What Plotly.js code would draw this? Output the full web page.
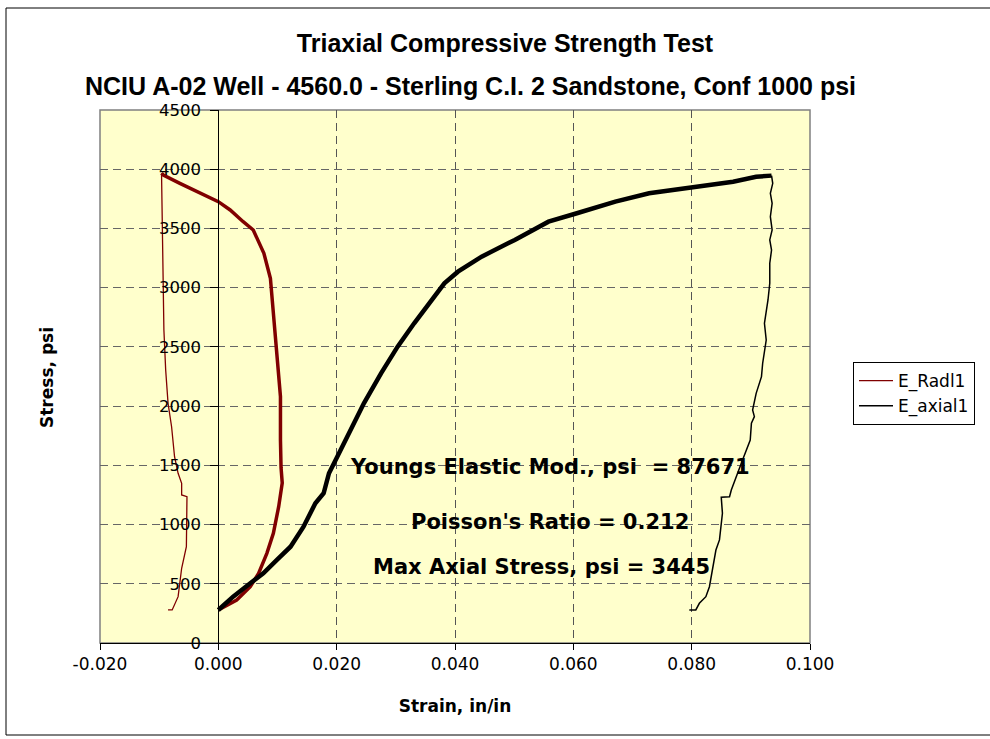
<!DOCTYPE html>
<html>
<head>
<meta charset="utf-8">
<script src="https://cdn.plot.ly/plotly-3.0.1.min.js"></script>
<style>html,body{margin:0;padding:0;background:#fff;}#chart{width:990px;height:739px;}</style>
</head>
<body>
<div id="chart"></div>
<script>
// E_Radl1 loading branch
const radlLoadX = [0, 0.0031, 0.0054, 0.0068, 0.0082, 0.0093, 0.0102, 0.0108, 0.0106, 0.0105, 0.0105, 0.0099, 0.0096, 0.0091, 0.0088, 0.0077, 0.0059, 0.0042, 0.0020, 0, -0.0031, -0.0065, -0.0093, -0.0096];
const radlLoadY = [280, 363, 475, 588, 757, 926, 1151, 1351, 1480, 1714, 2080, 2446, 2671, 2896, 3080, 3290, 3487, 3557, 3656, 3726, 3797, 3881, 3951, 3966];
// E_Radl1 unloading branch
const radlUnloadX = [-0.0096, -0.0094, -0.0092, -0.0089, -0.0085, -0.0079, -0.0074, -0.0068, -0.0062, -0.0062, -0.0053, -0.0054, -0.0062, -0.0068, -0.0076, -0.0078, -0.0085];
const radlUnloadY = [3966, 3037, 2643, 2305, 2024, 1826, 1573, 1433, 1348, 1250, 1235, 813, 631, 391, 300, 279, 279];
// E_axial1 loading branch
const axialLoadX = [0, 0.0025, 0.0054, 0.0076, 0.0099, 0.0122, 0.0144, 0.0164, 0.0178, 0.0187, 0.0201, 0.0224, 0.0246, 0.0275, 0.0303, 0.0331, 0.0360, 0.0382, 0.0405, 0.0445, 0.0501, 0.0558, 0.0606, 0.0671, 0.0728, 0.0804, 0.0870, 0.0909, 0.0935];
const axialLoadY = [279, 391, 504, 588, 701, 813, 982, 1180, 1264, 1433, 1573, 1798, 2024, 2277, 2502, 2699, 2896, 3037, 3135, 3262, 3403, 3557, 3628, 3726, 3797, 3853, 3895, 3937, 3946];
// E_axial1 unloading branch
const axialUnloadX = [0.0935, 0.0937, 0.0933, 0.0936, 0.0933, 0.0936, 0.0932, 0.0935, 0.0932, 0.0932, 0.0929, 0.0923, 0.0926, 0.0920, 0.0918, 0.0909, 0.0903, 0.0906, 0.0901, 0.0899, 0.0886, 0.0875, 0.0867, 0.0864, 0.0850, 0.0852, 0.0850, 0.0847, 0.0841, 0.0835, 0.0830, 0.0824, 0.0813, 0.0807, 0.0796];
const axialUnloadY = [3946, 3881, 3797, 3712, 3599, 3487, 3403, 3318, 3206, 3037, 2896, 2699, 2558, 2362, 2249, 2108, 1967, 1911, 1855, 1714, 1545, 1404, 1292, 1235, 1230, 1095, 982, 870, 785, 616, 475, 391, 335, 279, 279];

const seriesNames = ["E_Radl1", "E_axial1"];
const xTickVals = [-0.02, 0, 0.02, 0.04, 0.06, 0.08, 0.1];
const xTickText = ["-0.020", "0.000", "0.020", "0.040", "0.060", "0.080", "0.100"];
const yTickVals = [0, 500, 1000, 1500, 2000, 2500, 3000, 3500, 4000, 4500];
const titleLine1 = "Triaxial Compressive Strength Test";
const titleLine2 = "NCIU A-02 Well - 4560.0 - Sterling C.I. 2 Sandstone, Conf 1000 psi";
const noteTexts = ["Youngs Elastic Mod., psi  = 87671", "Poisson's Ratio = 0.212", "Max Axial Stress, psi = 3445"];
const notePosX = [0.0560, 0.0561, 0.0546];
const notePosY = [1490, 1024, 644];

const RED = "#800000";
const traces = [
  {x: radlUnloadX, y: radlUnloadY, name: seriesNames[0], legendgroup: "r", mode: "lines", line: {color: RED, width: 1.3}},
  {x: axialUnloadX, y: axialUnloadY, name: seriesNames[1], legendgroup: "a", mode: "lines", line: {color: "#000", width: 1.5}},
  {x: radlLoadX, y: radlLoadY, name: seriesNames[0], legendgroup: "r", showlegend: false, mode: "lines", line: {color: RED, width: 3.5}},
  {x: axialLoadX, y: axialLoadY, name: seriesNames[1], legendgroup: "a", showlegend: false, mode: "lines", line: {color: "#000", width: 4.5}}
];

const F = "DejaVu Sans, Verdana, sans-serif";
const annotations = noteTexts.map((t, i) => ({
  x: notePosX[i], y: notePosY[i], xref: "x", yref: "y", text: t, showarrow: false,
  xanchor: "center", yanchor: "middle", font: {family: F, size: 21, weight: "bold", color: "#000"}
}));
annotations.push({x: (470 - 100) / 710, y: (643 - 86) / 533, xref: "paper", yref: "paper", text: titleLine2, showarrow: false,
  xanchor: "center", yanchor: "middle", font: {family: "Liberation Sans, Arial, sans-serif", size: 25, weight: "bold", color: "#000"}});
annotations.push({x: (47 - 100) / 710, y: (643 - 378) / 533, xref: "paper", yref: "paper", text: "Stress, psi", showarrow: false,
  textangle: -90, xanchor: "center", yanchor: "middle", font: {family: F, size: 17, weight: "bold", color: "#000"}});

const layout = {
  width: 990, height: 739,
  margin: {l: 100, r: 180, t: 110, b: 96},
  paper_bgcolor: "#fff", plot_bgcolor: "#FFFFCC",
  font: {family: F, size: 17, color: "#000"},
  title: {text: titleLine1, x: 505 / 990, xanchor: "center", y: 1 - 43 / 739, yanchor: "middle", yref: "container",
    font: {family: "Liberation Sans, Arial, sans-serif", size: 25, weight: "bold", color: "#000"}},
  xaxis: {range: [-0.02, 0.1], tickvals: xTickVals, ticktext: xTickText, showgrid: true, gridcolor: "#555", griddash: "8px,5px", gridwidth: 1,
    zeroline: true, zerolinecolor: "#000", zerolinewidth: 1, showline: true, linecolor: "#000", linewidth: 1,
    ticks: "outside", ticklen: 6, tickcolor: "#000", tickfont: {family: F, size: 17},
    title: {text: "Strain, in/in", font: {family: F, size: 17, weight: "bold"}, standoff: 26}},
  yaxis: {range: [0, 4500], tickvals: yTickVals, anchor: "free", position: 1 / 6, showgrid: true, gridcolor: "#666", griddash: "8px,5px", gridwidth: 1,
    zeroline: false, showline: true, linecolor: "#000", linewidth: 1, ticks: "outside", ticklen: 8, tickcolor: "#000",
    ticklabelstandoff: 6, tickfont: {family: F, size: 16.5}},
  showlegend: true,
  legend: {x: (853 - 100) / 710, y: (643 - 362) / 533, xanchor: "left", yanchor: "top", bgcolor: "#fff", bordercolor: "#000", borderwidth: 1,
    font: {family: F, size: 17}, traceorder: "normal", itemwidth: 34},
  annotations: annotations,
  shapes: [
    {type: "rect", xref: "paper", yref: "paper", x0: 0, x1: 1, y0: 0, y1: 1, line: {color: "#808080", width: 1.5}, layer: "below"},
    {type: "rect", xref: "paper", yref: "paper", x0: (6 - 100) / 710, x1: (993 - 100) / 710, y0: (643 - 735) / 533, y1: (643 - 8) / 533,
      line: {color: "#000", width: 1}, fillcolor: "rgba(0,0,0,0)", layer: "above"}
  ]
};

Plotly.newPlot("chart", traces, layout, {displayModeBar: false, staticPlot: true});
</script>
</body>
</html>
